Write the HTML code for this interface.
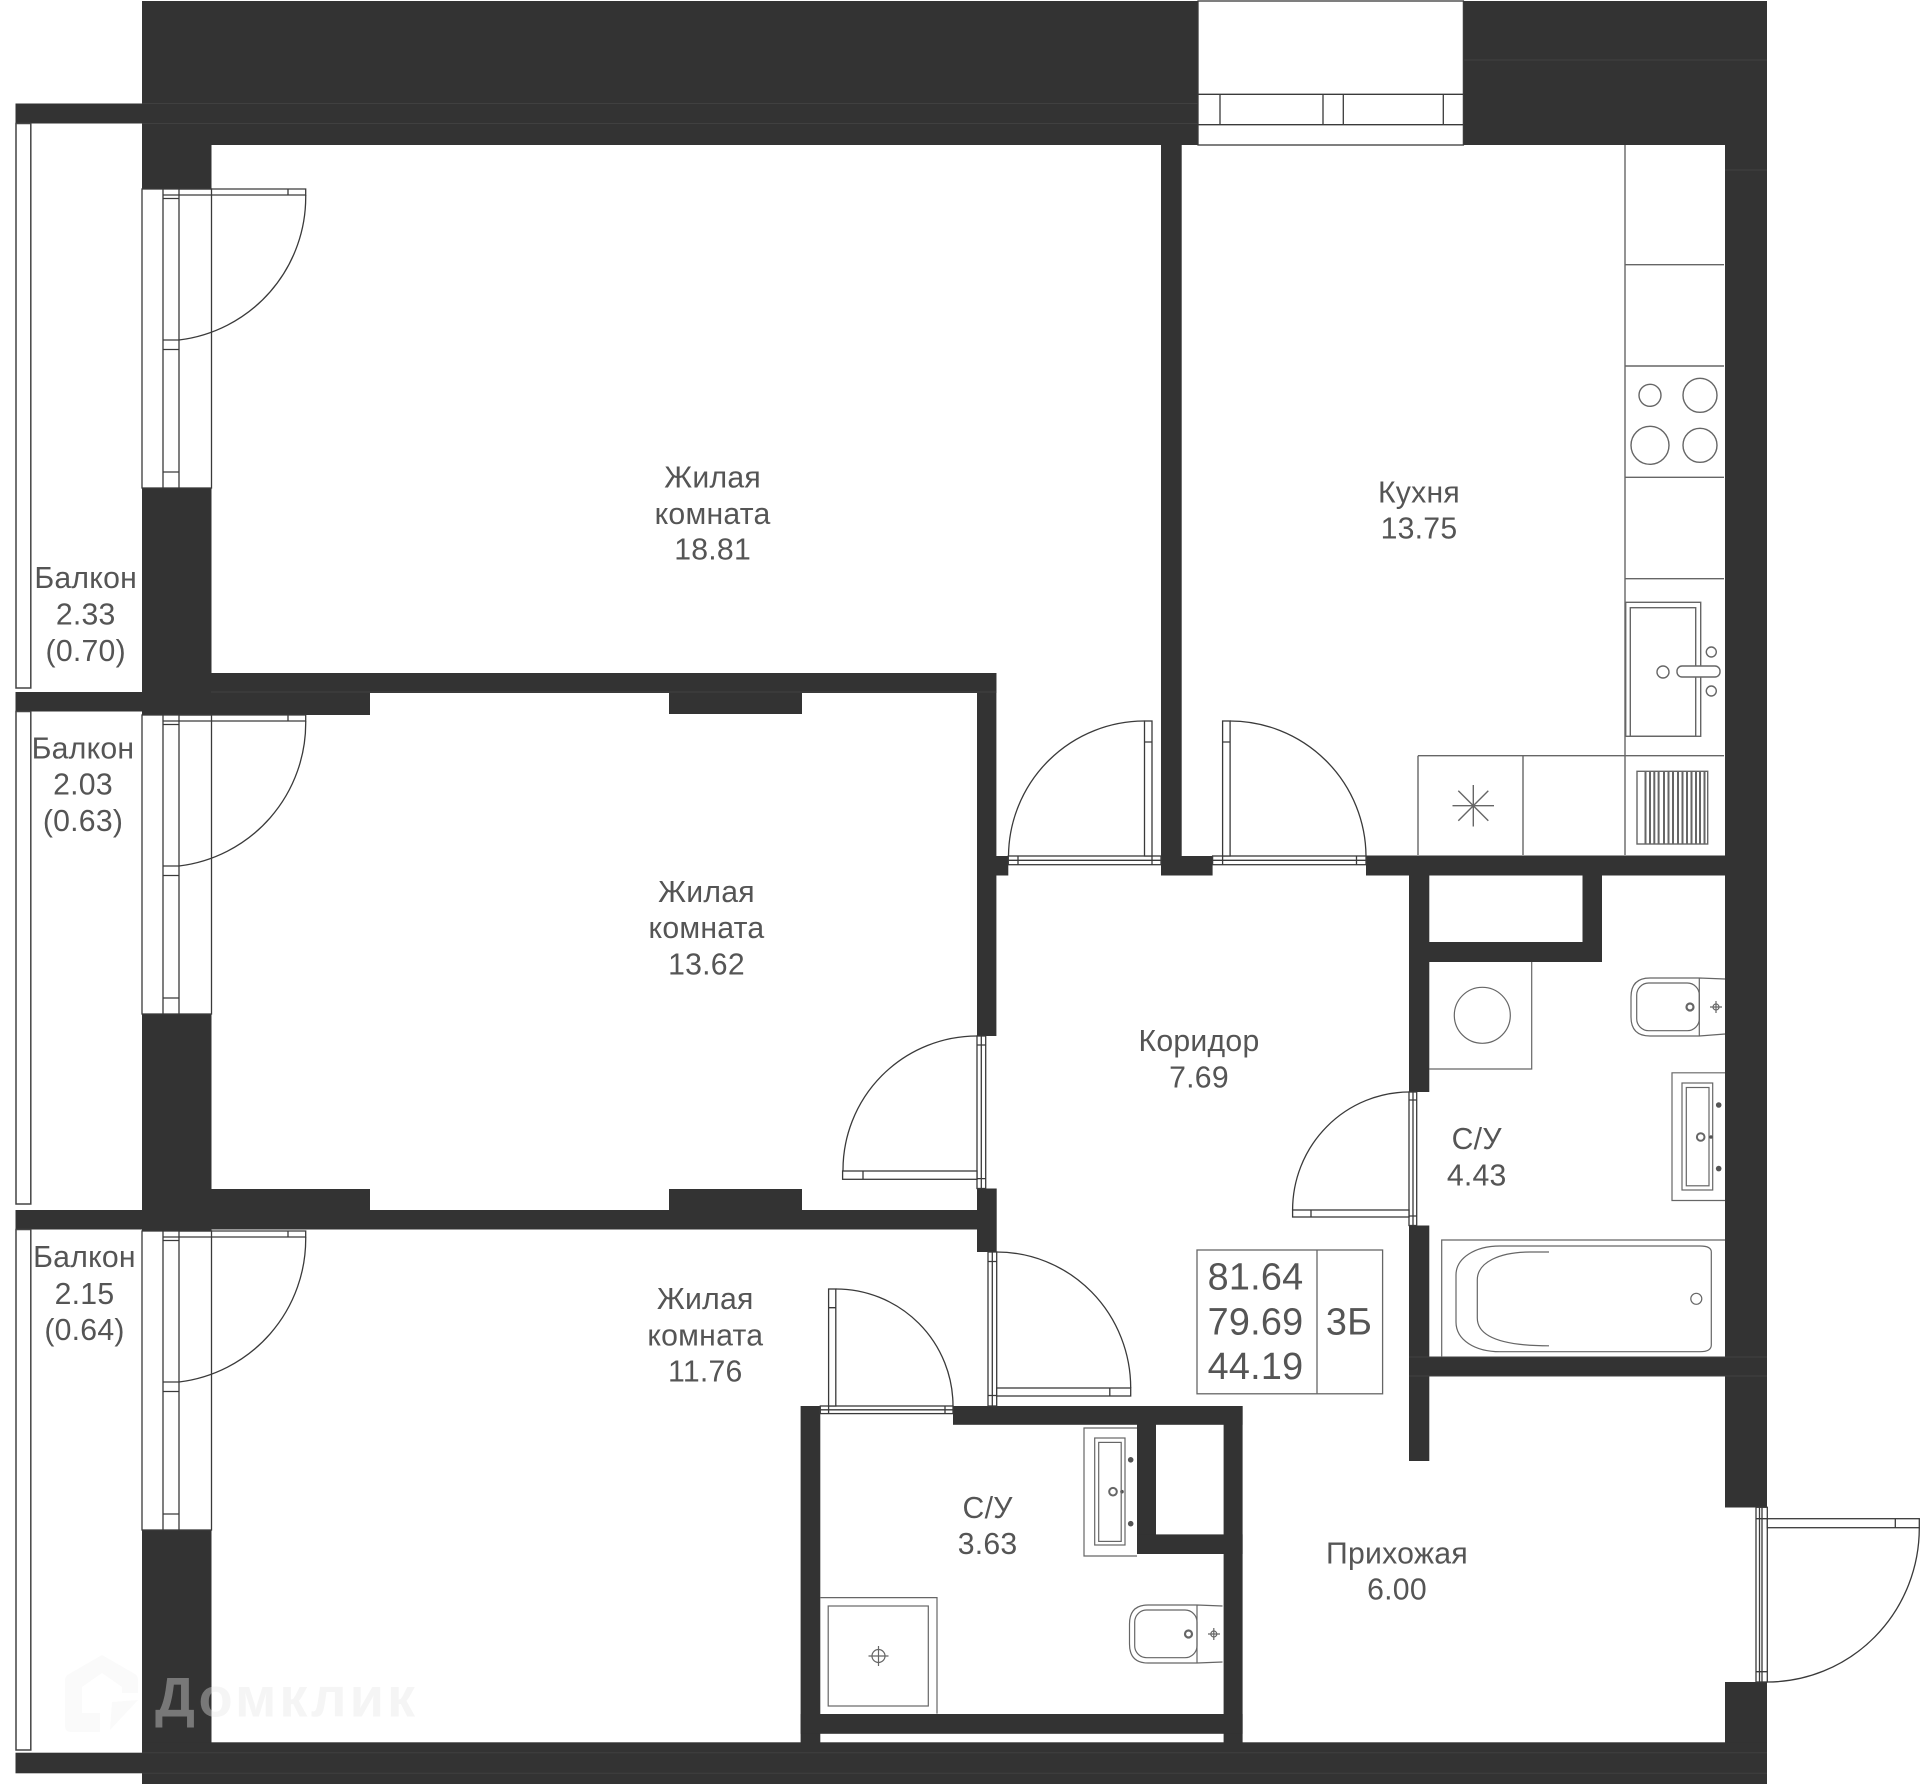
<!DOCTYPE html>
<html lang="ru">
<head>
<meta charset="utf-8">
<title>План квартиры</title>
<style>
html,body{margin:0;padding:0;background:#fff;width:1920px;height:1784px;overflow:hidden}
svg{display:block}
.l{fill:none;stroke:#3a3a3a;stroke-width:1.3}
.f{fill:none;stroke:#666;stroke-width:1.4}
.t{font-family:"Liberation Sans","Noto Sans CJK SC",sans-serif;font-size:30.2px;letter-spacing:.25px;fill:#555;text-anchor:middle}
.b{font-size:37.8px}
</style>
</head>
<body>
<svg xmlns="http://www.w3.org/2000/svg" width="1920" height="1784" viewBox="0 0 1920 1784">
<rect width="1920" height="1784" fill="#fff"/>

<!-- walls -->
<g fill="#333">
  <rect x="142" y="1" width="1056" height="144"/>
  <rect x="1463" y="1" width="304" height="144"/>
  <rect x="15.5" y="103.5" width="127" height="20"/>
  <rect x="142" y="145" width="69.5" height="44"/>
  <rect x="142" y="488" width="69.5" height="204"/>
  <rect x="211" y="673" width="785.4" height="20"/>
  <rect x="15.5" y="692" width="354.5" height="19.5"/>
  <rect x="142" y="711" width="228" height="4"/>
  <rect x="669" y="692" width="133" height="22"/>
  <rect x="977" y="673" width="19.4" height="363"/>
  <rect x="977" y="856" width="31.3" height="19.5"/>
  <rect x="1161" y="145" width="20.7" height="730.5"/>
  <rect x="1161" y="856" width="51.6" height="19.5"/>
  <rect x="1366" y="855.5" width="401" height="20"/>
  <rect x="1725" y="145" width="42" height="1362.5"/>
  <rect x="1725" y="1682" width="42" height="102"/>
  <rect x="142" y="1014" width="69.5" height="197"/>
  <rect x="211" y="1189" width="159" height="22"/>
  <rect x="669" y="1189" width="133" height="22"/>
  <rect x="15.5" y="1210" width="980.9" height="19.5"/>
  <rect x="142" y="1229" width="69.5" height="2"/>
  <rect x="977" y="1188.5" width="19.7" height="63.5"/>
  <rect x="142" y="1530" width="69.5" height="254"/>
  <rect x="142" y="1742.3" width="1625" height="41.7"/>
  <rect x="15.5" y="1752.7" width="127" height="20.6"/>
  <!-- bath block -->
  <rect x="1409" y="875" width="20.3" height="217"/>
  <rect x="1409" y="1225.5" width="20.3" height="235.5"/>
  <rect x="1409" y="942" width="193" height="20"/>
  <rect x="1582.5" y="875" width="19.5" height="87"/>
  <rect x="1409" y="1357" width="358" height="19.5"/>
  <!-- wc block -->
  <rect x="800.6" y="1406" width="19.7" height="337"/>
  <rect x="953" y="1406" width="289.6" height="18.8"/>
  <rect x="1137" y="1406" width="19" height="148"/>
  <rect x="1137" y="1534.4" width="105.6" height="19.6"/>
  <rect x="1223.6" y="1406" width="19" height="337"/>
  <rect x="800.6" y="1714" width="442" height="19.8"/>
</g>
<!-- subtle wall seams -->
<g stroke="#404040" stroke-width="1" fill="none">
  <path d="M142 103.5H1198M142 123.5H1198M1463 60H1767M1725 170H1767M142 1752.7H1767M142 1773.3H1767M211 692H996M1409 1357H1767M1409 1376H1767"/>
</g>

<!-- balcony rails -->
<g class="l" style="stroke:#444;stroke-width:1.5">
  <rect x="16" y="123.5" width="14.8" height="564.5"/>
  <rect x="16" y="711.5" width="14.8" height="492.5"/>
  <rect x="16" y="1229.5" width="14.8" height="520.5"/>
</g>

<!-- top window -->
<g class="l">
  <rect x="1198" y="1" width="265.4" height="144" fill="#fff"/>
  <path d="M1198 94.3H1463.4M1198 124.7H1463.4M1220 94.3V124.7M1323 94.3V124.7M1343.3 94.3V124.7M1443.3 94.3V124.7"/>
</g>

<!-- balcony windows + doors -->
<defs>
  <g id="w">
    <rect x="142" y="0" width="69.5" height="299" fill="#fff" stroke="#3a3a3a" stroke-width="1.3"/>
    <path class="l" d="M163 0V299M179 0V299M163 6H179M163 9.5H179M163 151H179M163 160.5H179M163 283H179"/>
    <path class="l" d="M179 0H305.7V6H179M288 0V6"/>
    <path class="l" d="M305.7 6A144 144 0 0 1 179 151"/>
  </g>
</defs>
<use href="#w" x="0" y="189"/>
<use href="#w" x="0" y="715"/>
<use href="#w" x="0" y="1231"/>

<!-- interior doors -->
<g class="l">
  <!-- room 1 -->
  <rect x="1008.3" y="856" width="152.7" height="8.7" fill="#fff"/>
  <path d="M1008.3 860.3H1161M1018 856V864.7M1152 856V864.7"/>
  <rect x="1144.5" y="721" width="7.5" height="135" fill="#fff"/>
  <path d="M1144.5 742H1152M1144.5 721A136 136 0 0 0 1008.5 856"/>
  <!-- kitchen -->
  <rect x="1212.6" y="856" width="153.4" height="8.7" fill="#fff"/>
  <path d="M1212.6 860.3H1366M1222.6 856V864.7M1356.5 856V864.7"/>
  <rect x="1222.6" y="721" width="7.5" height="135" fill="#fff"/>
  <path d="M1222.6 742H1230M1230 721A136 136 0 0 1 1366 856"/>
  <!-- room 2 -->
  <rect x="977" y="1036" width="8.7" height="152.5" fill="#fff"/>
  <path d="M981.3 1036V1188.5M977 1045H985.7M977 1178.6H985.7"/>
  <rect x="842.6" y="1171" width="134.4" height="8.3" fill="#fff"/>
  <path d="M863 1171V1179.3M977 1036A134 134 0 0 0 843 1171"/>
  <!-- wc 4.43 -->
  <rect x="1409" y="1092" width="7.7" height="133.5" fill="#fff"/>
  <path d="M1413 1092V1225.5M1409 1100H1416.7M1409 1216H1416.7"/>
  <rect x="1292.6" y="1210" width="116.4" height="7" fill="#fff"/>
  <path d="M1311 1210V1217M1409 1092A117 118 0 0 0 1292.6 1210"/>
  <!-- room 3 -->
  <rect x="988" y="1252" width="8.7" height="154" fill="#fff"/>
  <path d="M992.3 1252V1406M988 1261.5H996.7M988 1395.5H996.7"/>
  <rect x="996.7" y="1388" width="134" height="8" fill="#fff"/>
  <path d="M1109.8 1388V1396M996.7 1252A134 136 0 0 1 1130.7 1388"/>
  <!-- wc 3.63 -->
  <rect x="820.3" y="1406" width="132.7" height="7.6" fill="#fff"/>
  <path d="M820.3 1409.8H953M828.6 1406V1413.6M945 1406V1413.6"/>
  <rect x="828.6" y="1289" width="7.2" height="117" fill="#fff"/>
  <path d="M828.6 1307.7H835.8M835.8 1289A117 117 0 0 1 953 1406"/>
  <!-- entrance -->
  <rect x="1756" y="1507.3" width="11.3" height="174.7" fill="#fff"/>
  <path d="M1759.5 1507.3V1682M1762 1507.3V1682M1756 1518.7H1767.3M1756 1671.7H1767.3"/>
  <rect x="1767.3" y="1518.7" width="152" height="9" fill="#fff"/>
  <path d="M1895.3 1518.7V1527.7M1919.3 1527.7A152 154 0 0 1 1767.3 1682"/>
</g>

<!-- kitchen furniture -->
<g class="f">
  <path d="M1625 145V855M1625 264.7H1724M1625 366H1724M1625 477.3H1724M1625 578.7H1724M1418 755.7H1724M1418 755.7V855M1523 755.7V855"/>
  <circle cx="1650" cy="395.3" r="11"/>
  <circle cx="1700" cy="395.3" r="17"/>
  <circle cx="1650" cy="445.3" r="19"/>
  <circle cx="1700" cy="445.3" r="17"/>
  <rect x="1625.7" y="602.3" width="75" height="134"/>
  <rect x="1630.3" y="607.7" width="65.4" height="128.6"/>
  <circle cx="1663" cy="672" r="6"/>
  <rect x="1677" y="666" width="43" height="11" rx="5" fill="#fff"/>
  <circle cx="1711.3" cy="652" r="5"/>
  <circle cx="1711.3" cy="691" r="5"/>
  <path d="M1473.3 785V826.5M1452.5 805.7H1494M1458.3 790.7L1488.3 820.7M1488.3 790.7L1458.3 820.7"/>
  <rect x="1637" y="771.3" width="70.7" height="72.7"/>
  <path stroke-width="2" d="M1645.5 771.3V844M1650 771.3V844M1654.3 771.3V844M1658.6 771.3V844M1664 771.3V844M1668.5 771.3V844M1673 771.3V844M1678 771.3V844M1682.5 771.3V844M1687 771.3V844M1691.5 771.3V844M1696 771.3V844M1700 771.3V844M1704.5 771.3V844"/>
</g>

<!-- bathroom 4.43 fixtures -->
<g class="f" style="stroke-width:1.2">
  <path d="M1429 1069H1531.7V962"/>
  <circle cx="1482.3" cy="1015.3" r="28"/>
  <path d="M1725 979L1699.3 978H1650Q1631 978 1631 997V1017Q1631 1036 1650 1036H1699.3L1725 1034M1699.3 978V1036"/>
  <rect x="1636.7" y="983" width="62.6" height="47.7" rx="12"/>
  <circle cx="1690" cy="1007" r="3.5" stroke-width="2.2"/>
  <circle cx="1716" cy="1007" r="3"/>
  <path d="M1710 1007H1722M1716 1001V1013"/>
  <path d="M1725 1072.8H1672V1200.5H1725"/>
  <rect x="1682" y="1083" width="30.7" height="107"/>
  <rect x="1686.3" y="1087.5" width="22.7" height="98.3"/>
  <circle cx="1700.7" cy="1137" r="3.8" stroke-width="2"/>
  <path d="M1441.7 1357V1240H1725"/>
  <path d="M1711.3 1252Q1711.3 1246 1700 1246L1500 1246C1475 1246 1456 1258 1456 1275L1456 1322C1456 1340 1475 1351.7 1500 1351.7L1700 1351.7Q1711.3 1351.7 1711.3 1345Z"/>
  <path d="M1549 1252L1530 1252C1500 1252 1477.3 1262 1477.3 1280L1477.3 1318C1477.3 1336 1500 1345.8 1549 1345.8"/>
  <circle cx="1696.3" cy="1298.8" r="5.5"/>
</g>
<g fill="#555">
  <circle cx="1718.7" cy="1105" r="2.8"/>
  <circle cx="1718.7" cy="1168.6" r="2.8"/>
  <circle cx="1711" cy="1137" r="1.8"/>
  <circle cx="1130.7" cy="1459.8" r="2.8"/>
  <circle cx="1130.7" cy="1523.7" r="2.8"/>
  <circle cx="1122" cy="1491.7" r="1.8"/>
</g>

<!-- bathroom 3.63 fixtures -->
<g class="f" style="stroke-width:1.2">
  <path d="M1137 1428H1084V1556H1137"/>
  <rect x="1094.7" y="1438" width="30.3" height="107"/>
  <rect x="1098.7" y="1442.4" width="22.5" height="99"/>
  <circle cx="1113" cy="1491.7" r="3.8" stroke-width="2"/>
  <path d="M1222.5 1606L1197 1605H1148Q1129.5 1605 1129.5 1624V1644Q1129.5 1663 1148 1663H1197L1222.5 1662M1197 1605V1663"/>
  <rect x="1134.7" y="1610" width="62.3" height="47.7" rx="12"/>
  <circle cx="1188.5" cy="1634" r="3.5" stroke-width="2.2"/>
  <circle cx="1213.8" cy="1634" r="3"/>
  <path d="M1208 1634H1220M1213.8 1628V1640"/>
  <path d="M820.3 1597.6H937V1713.6"/>
  <rect x="828.2" y="1606" width="100.1" height="100"/>
  <circle cx="878.5" cy="1656" r="6.5"/>
  <path d="M868.5 1656H888.5M878.5 1646V1666"/>
</g>

<!-- info box -->
<g class="f" style="stroke-width:1.3">
  <rect x="1197" y="1250" width="185.6" height="143.8"/>
  <path d="M1317 1250V1393.8"/>
</g>

<!-- labels -->
<g class="t">
  <text x="85.7" y="588">Балкон</text><text x="85.7" y="624.5">2.33</text><text x="85.7" y="661">(0.70)</text>
  <text x="83" y="758.3">Балкон</text><text x="83" y="794.5">2.03</text><text x="83" y="831">(0.63)</text>
  <text x="84.5" y="1267">Балкон</text><text x="84.5" y="1304">2.15</text><text x="84.5" y="1340">(0.64)</text>
  <text x="712.6" y="487.5">Жилая</text><text x="712.6" y="524">комната</text><text x="712.6" y="559.5">18.81</text>
  <text x="706.5" y="902">Жилая</text><text x="706.5" y="938">комната</text><text x="706.5" y="974.5">13.62</text>
  <text x="705.3" y="1309">Жилая</text><text x="705.3" y="1345.5">комната</text><text x="705.3" y="1381.5">11.76</text>
  <text x="1419" y="502.5">Кухня</text><text x="1419" y="538.3">13.75</text>
  <text x="1199" y="1051">Коридор</text><text x="1199" y="1087.5">7.69</text>
  <text x="1476.7" y="1149">С/У</text><text x="1476.7" y="1185.5">4.43</text>
  <text x="987.6" y="1518">С/У</text><text x="987.6" y="1554">3.63</text>
  <text x="1397" y="1563.6">Прихожая</text><text x="1397" y="1599.7">6.00</text>
  <text class="b" x="1255.5" y="1289.7">81.64</text>
  <text class="b" x="1255.5" y="1334.4">79.69</text>
  <text class="b" x="1255.5" y="1379">44.19</text>
  <text class="b" x="1349" y="1334.4">3Б</text>
</g>

<!-- watermark -->
<g fill="#e5e5e5" fill-opacity=".2">
  <path d="M65 1680Q65 1676 69 1674L102 1655L135 1674Q138 1676 138 1680L138 1693L122 1693L122 1687L102 1673L82 1687L82 1713L100 1713L100 1732L71 1732Q65 1732 65 1726Z"/>
  <path d="M138 1700L112 1702L110 1730Z"/>
</g>
<text x="155" y="1716.7" textLength="260" font-family="Liberation Sans, sans-serif" font-weight="700" font-size="56" fill="#e5e5e5" fill-opacity=".39">Домклик</text>
</svg>
</body>
</html>
